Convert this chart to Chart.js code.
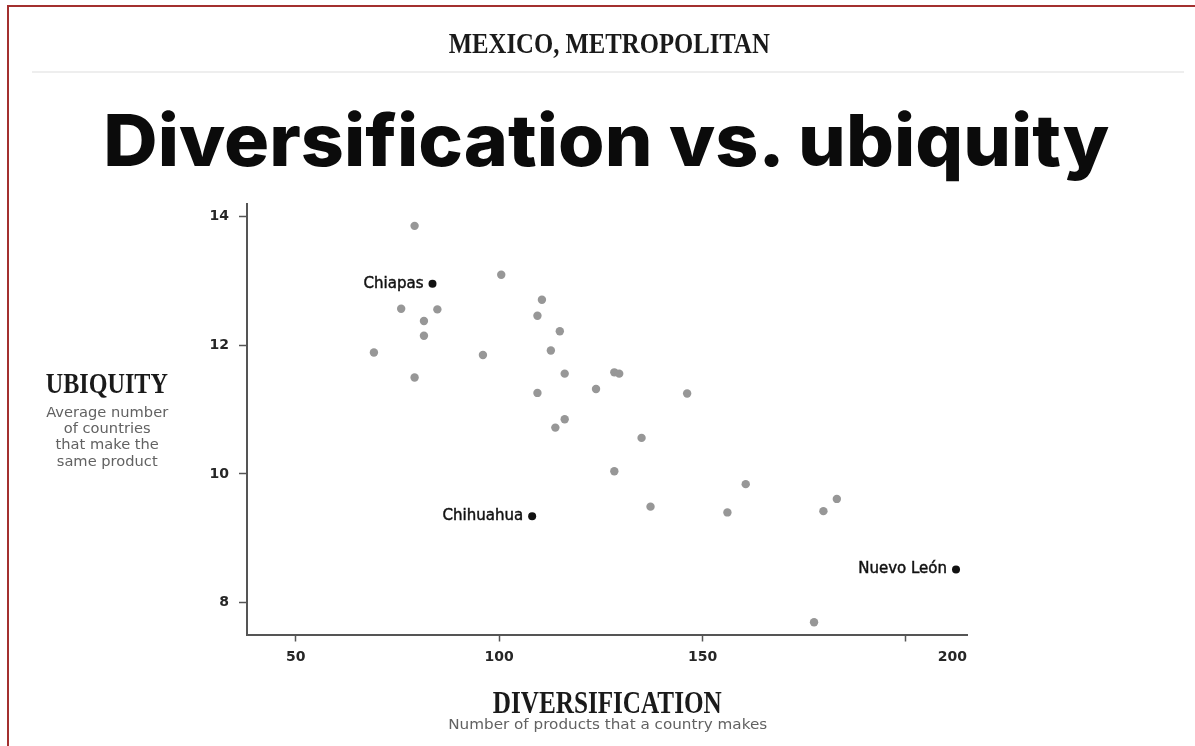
<!DOCTYPE html>
<html>
<head>
<meta charset="utf-8">
<script src="https://cdn.jsdelivr.net/npm/chart.js@4.4.1/dist/chart.umd.min.js"></script>
<style>
  html, body { margin:0; padding:0; background:#fff; width:1195px; height:746px; overflow:hidden; }
  #frame { position:absolute; left:7px; top:5px; width:1188px; height:741px; border-left:2px solid #a3302f; border-top:2px solid #a3302f; }
  #rule { position:absolute; left:32px; top:71px; width:1152px; height:2px; background:#eeeeee; }
  .t { position:absolute; white-space:nowrap; display:inline-block; line-height:1; }
  .serif { font-family:"Liberation Serif", "DejaVu Serif", serif; font-weight:bold; color:#1a1a1a; }
  .sans { font-family:"DejaVu Sans", sans-serif; color:#626262; }
  #chartwrap { position:absolute; left:0; top:0; width:1195px; height:746px; }
</style>
</head>
<body>
<div id="chartwrap"><canvas id="c" width="1195" height="746"></canvas></div>
<div id="frame"></div>
<div id="rule"></div>
<div id="hdr" class="t serif" style="font-size:29px; top:28.7px;">MEXICO, METROPOLITAN</div>
<div id="ttl" class="t" style="font-family:Inter, 'Noto Sans', sans-serif; font-weight:800; font-size:72px; top:104px; color:#0b0b0b;">Diversification vs. ubiquity</div>
<div id="ytitle" class="t serif" style="font-size:30px; top:368px;">UBIQUITY</div>
<div id="ysub" class="t sans" style="font-size:13.5px; line-height:16.3px; top:403.7px; text-align:center;">Average number<br>of countries<br>that make the<br>same product</div>
<div id="xtitle" class="t serif" style="font-size:31.5px; top:686.6px;">DIVERSIFICATION</div>
<div id="xsub" class="t sans" style="font-size:13.5px; top:717.6px;">Number of products that a country makes</div>
<script>
// ---- data ----
const otherDiversification = [79.2, 100.5, 110.5, 75.9, 84.8, 81.5, 109.4, 114.9, 81.5, 69.2, 96.0, 112.7, 79.2, 116.1, 128.3, 129.5, 109.4, 123.8, 146.2, 116.1, 113.8, 135.0, 128.3, 160.6, 183.0, 137.2, 156.1, 179.7, 177.4];
const otherUbiquity       = [13.86, 13.10, 12.71, 12.57, 12.56, 12.38, 12.46, 12.22, 12.15, 11.89, 11.85, 11.92, 11.50, 11.56, 11.58, 11.56, 11.26, 11.32, 11.25, 10.85, 10.72, 10.56, 10.04, 9.84, 9.61, 9.49, 9.40, 9.42, 7.69];
const namedStates = ["Chiapas", "Chihuahua", "Nuevo León"];
const namedDiversification = [83.6, 108.1, 212.3];
const namedUbiquity = [12.96, 9.34, 8.51];
const xTickValues = [50, 100, 150, 200];
const yTickValues = [8, 10, 12, 14];

// ---- chart ----
const tickFont = { family: "DejaVu Sans", size: 14, weight: "bold" };
const axisColor = "#555555";

const namedLabels = {
  id: "namedLabels",
  afterDatasetsDraw(chart) {
    const meta = chart.getDatasetMeta(1);
    const ctx = chart.ctx;
    ctx.save();
    ctx.font = "15px 'DejaVu Sans'";
    ctx.fillStyle = "#111111";
    ctx.strokeStyle = "#111111";
    ctx.lineWidth = 0.45;
    ctx.textAlign = "right";
    ctx.textBaseline = "middle";
    meta.data.forEach((pt, i) => {
      ctx.fillText(namedStates[i], pt.x - 9, pt.y);
      ctx.strokeText(namedStates[i], pt.x - 9, pt.y);
    });
    ctx.restore();
  }
};

const lastLabelToEnd = {
  id: "lastLabelToEnd",
  beforeDraw(chart) {
    const sc = chart.scales.x;
    const items = sc.getLabelItems();
    if (items && items.length) {
      const last = items[items.length - 1];
      last.options.translation = [chart.chartArea.right, last.options.translation[1]];
      last.options.textAlign = "right";
    }
  }
};

new Chart(document.getElementById("c"), {
  type: "scatter",
  data: {
    datasets: [
      {
        data: otherDiversification.map((x, i) => ({ x, y: otherUbiquity[i] })),
        backgroundColor: "#979797",
        borderWidth: 0,
        pointRadius: 4.2,
        pointHoverRadius: 4.2
      },
      {
        data: namedDiversification.map((x, i) => ({ x, y: namedUbiquity[i] })),
        backgroundColor: "#111111",
        borderWidth: 0,
        pointRadius: 4,
        pointHoverRadius: 4
      }
    ]
  },
  options: {
    responsive: false,
    animation: false,
    events: [],
    layout: { padding: { left: 167, right: 228, top: 204, bottom: 51.5 } },
    plugins: { legend: { display: false }, tooltip: { enabled: false }, title: { display: false } },
    scales: {
      x: {
        type: "linear",
        min: 38,
        max: 215,
        afterBuildTicks: s => { s.ticks = xTickValues.map(v => ({ value: v })); },
        afterFit: s => { s.height = 60; },
        grid: { drawOnChartArea: false, drawTicks: true, tickLength: 7, tickColor: axisColor, tickWidth: 1.5, color: axisColor },
        border: { display: true, color: axisColor, width: 2 },
        ticks: { padding: 7, font: tickFont, color: "#262626", maxRotation: 0 }
      },
      y: {
        type: "linear",
        min: 7.5,
        max: 14.2,
        afterBuildTicks: s => { s.ticks = yTickValues.map(v => ({ value: v })); },
        afterFit: s => { s.width = 80; },
        grid: { drawOnChartArea: false, drawTicks: true, tickLength: 8, tickColor: axisColor, tickWidth: 1.5, color: axisColor },
        border: { display: true, color: axisColor, width: 2 },
        ticks: { padding: 10, font: tickFont, color: "#262626" }
      }
    }
  },
  plugins: [lastLabelToEnd, namedLabels]
});

// ---- fit HTML text widths ----
function fit(id, cx, width) {
  const el = document.getElementById(id);
  el.style.transform = "none";
  const w = el.getBoundingClientRect().width;
  el.style.left = (cx - w / 2) + "px";
  el.style.transformOrigin = "center center";
  el.style.transform = "scaleX(" + (width / w) + ")";
}
function layoutText() {
  fit("hdr", 609.5, 321);
  fit("ttl", 606, 1006);
  fit("ytitle", 106.5, 122);
  fit("ysub", 107, 122);
  fit("xtitle", 607.5, 229);
  fit("xsub", 607.5, 319);
}
layoutText();
if (document.fonts && document.fonts.ready) document.fonts.ready.then(layoutText);
</script>
</body>
</html>
